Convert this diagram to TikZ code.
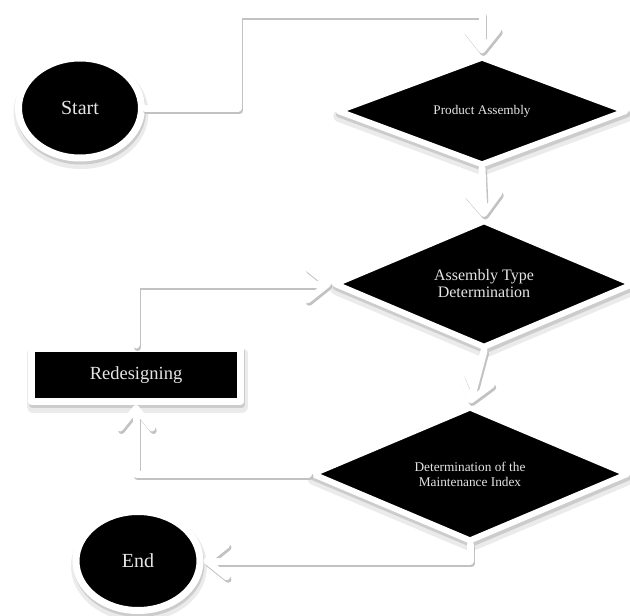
\documentclass[tikz,border=0pt]{standalone}
\usepackage{fontspec}
\setmainfont{Liberation Serif}
\usetikzlibrary{shapes.geometric,arrows.meta}
\begin{document}
\begin{tikzpicture}[x=1pt,y=-1pt,
  shadowed/.style={
    preaction={draw=black!8, fill=black!8, line width=12pt, transform canvas={xshift=1pt,yshift=-5pt}},
    preaction={draw=black!20, fill=black!20, line width=7pt, transform canvas={xshift=1pt,yshift=-3pt}}},
  base/.style={shadowed, fill=black, draw=white, line width=7pt, line join=round,
    text=white!90!black, inner sep=0pt},
  term/.style={base, ellipse, font=\fontsize{20}{24}\selectfont},
  dia/.style={base, diamond, line width=6pt, align=center},
  box/.style={base, rectangle, font=\fontsize{18.5}{22}\selectfont},
  conn/.style={draw=white, line width=7pt, line join=round, line cap=round,
    -{Straight Barb[length=20pt,width=32pt,line width=6.5pt,round]}},
  connsh/.style={conn, draw=black!24, transform canvas={xshift=1.5pt,yshift=-2.5pt}}]
\useasboundingbox (0,0) rectangle (630,616);
\fill[white] (0,0) rectangle (630,616);

\node[term, minimum width=123pt, minimum height=100pt] (start) at (80,108) {Start};
\node[term, minimum width=124pt, minimum height=99pt] (end) at (138,561) {End};
\node[box, minimum width=209pt, minimum height=53pt] (red) at (136,375) {Redesigning};
\node[dia, minimum width=290pt, minimum height=94pt, font=\fontsize{13.2}{15}\selectfont] (pa) at (482,111) {Product Assembly};
\node[dia, minimum width=300pt, minimum height=126pt, font=\fontsize{16}{17}\selectfont] (atd) at (484,284) {Assembly Type\\Determination};
\node[dia, minimum width=317pt, minimum height=113pt, font=\fontsize{13.3}{15}\selectfont] (mi) at (470,474) {Determination of the\\Maintenance Index};

\draw[connsh] (start.east) -- (238,108) -- (238,14) -- (482,14) -- (pa.north);
\draw[conn] (start.east) -- (238,108) -- (238,14) -- (482,14) -- (pa.north);
\draw[connsh] (pa.south) -- (atd.north);
\draw[conn] (pa.south) -- (atd.north);
\draw[connsh] (atd.south) -- (mi.north);
\draw[conn] (atd.south) -- (mi.north);
\draw[connsh] (mi.south) |- (end.east);
\draw[conn] (mi.south) |- (end.east);
\draw[connsh] (mi.west) -| (red.south);
\draw[conn] (mi.west) -| (red.south);
\draw[connsh] (red.north) |- (atd.west);
\draw[conn] (red.north) |- (atd.west);
\end{tikzpicture}
\end{document}
